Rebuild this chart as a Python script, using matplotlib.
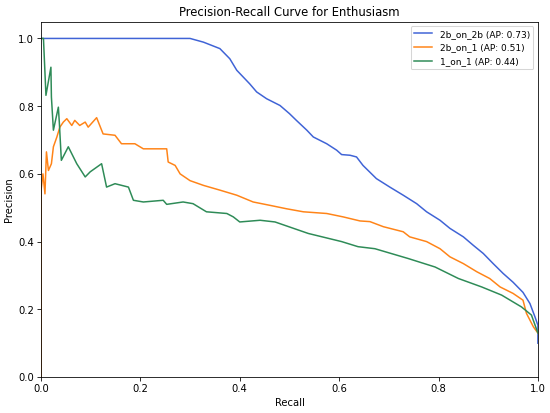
import matplotlib
matplotlib.use('Agg')
import matplotlib.pyplot as plt

# Precision-recall points (recall, precision)
recall_2b_on_2b = [0.0, 0.30, 0.327, 0.36, 0.38, 0.394, 0.42, 0.434, 0.454, 0.481,
                   0.50, 0.514, 0.535, 0.548, 0.575, 0.595, 0.605, 0.622, 0.635,
                   0.648, 0.675, 0.702, 0.729, 0.756, 0.776, 0.803, 0.823, 0.85,
                   0.87, 0.89, 0.91, 0.93, 0.95, 0.97, 0.984, 0.994, 1.0, 1.0]
precision_2b_on_2b = [1.0, 1.0, 0.989, 0.97, 0.94, 0.906, 0.866, 0.842, 0.822, 0.802,
                      0.778, 0.758, 0.729, 0.709, 0.689, 0.670, 0.657, 0.655, 0.65,
                      0.625, 0.586, 0.561, 0.537, 0.512, 0.488, 0.463, 0.439, 0.414,
                      0.389, 0.365, 0.335, 0.306, 0.280, 0.250, 0.217, 0.178, 0.153, 0.10]

recall_2b_on_1 = [0.0, 0.0, 0.004, 0.008, 0.011, 0.015, 0.021, 0.025, 0.032, 0.038,
                  0.045, 0.052, 0.062, 0.068, 0.078, 0.089, 0.095, 0.112, 0.125,
                  0.149, 0.162, 0.189, 0.206, 0.253, 0.256, 0.27, 0.28, 0.30, 0.327,
                  0.36, 0.394, 0.427, 0.461, 0.494, 0.528, 0.575, 0.608, 0.642,
                  0.662, 0.689, 0.729, 0.742, 0.776, 0.803, 0.823, 0.85, 0.877,
                  0.903, 0.924, 0.95, 0.97, 0.977, 0.991, 1.0]
precision_2b_on_1 = [0.0, 0.55, 0.60, 0.541, 0.665, 0.61, 0.63, 0.68, 0.709, 0.738,
                     0.753, 0.763, 0.743, 0.758, 0.743, 0.753, 0.738, 0.766, 0.718,
                     0.714, 0.689, 0.689, 0.674, 0.674, 0.635, 0.625, 0.60, 0.58, 0.566,
                     0.552, 0.537, 0.517, 0.507, 0.497, 0.488, 0.483, 0.473, 0.461,
                     0.459, 0.444, 0.429, 0.414, 0.40, 0.379, 0.355, 0.335, 0.311,
                     0.291, 0.266, 0.247, 0.227, 0.188, 0.148, 0.13]

recall_1_on_1 = [0.0, 0.005, 0.01, 0.02, 0.021, 0.025, 0.035, 0.037, 0.041, 0.055,
                 0.072, 0.089, 0.099, 0.122, 0.132, 0.149, 0.176, 0.186, 0.206,
                 0.246, 0.253, 0.286, 0.306, 0.333, 0.374, 0.387, 0.40, 0.441,
                 0.471, 0.538, 0.605, 0.638, 0.672, 0.739, 0.793, 0.84, 0.887,
                 0.927, 0.967, 0.987, 1.0]
precision_1_on_1 = [1.0, 1.0, 0.832, 0.915, 0.827, 0.729, 0.797, 0.75, 0.64, 0.68,
                    0.63, 0.591, 0.606, 0.63, 0.561, 0.571, 0.561, 0.522, 0.517,
                    0.522, 0.51, 0.517, 0.512, 0.488, 0.483, 0.473, 0.458, 0.463,
                    0.458, 0.424, 0.40, 0.385, 0.379, 0.35, 0.325, 0.291, 0.266,
                    0.242, 0.207, 0.183, 0.13]

labels = ['2b_on_2b (AP: 0.73)', '2b_on_1 (AP: 0.51)', '1_on_1 (AP: 0.44)']
line_colors = ['#3f63d6', '#ff8418', '#2e8b57']

DPI = 72.37
fig, ax = plt.subplots(figsize=(550 / DPI, 413.4 / DPI), dpi=DPI)
fig.subplots_adjust(left=0.0745, right=0.978, bottom=0.087, top=0.947)

ax.plot(recall_2b_on_2b, precision_2b_on_2b, color=line_colors[0], label=labels[0])
ax.plot(recall_2b_on_1, precision_2b_on_1, color=line_colors[1], label=labels[1])
ax.plot(recall_1_on_1, precision_1_on_1, color=line_colors[2], label=labels[2])

ax.set_xlim(0.0, 1.0)
ax.set_ylim(0.0, 1.05)
ax.set_xlabel('Recall')
ax.set_ylabel('Precision')
ax.set_title('Precision-Recall Curve for Enthusiasm', fontsize=11.6)
ax.legend(loc='upper right', fontsize=9)

plt.savefig('out.png', dpi=DPI, facecolor='white')
